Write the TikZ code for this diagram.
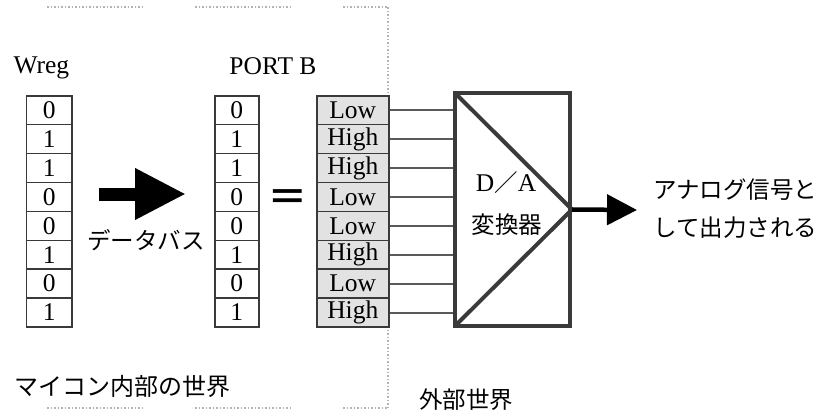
\documentclass[tikz,border=0pt]{standalone}
\usepackage{fontspec}
\setmainfont{Liberation Serif}
\newfontfamily\jp{Noto Sans CJK JP}
\newfontfamily\symfont{DejaVu Sans}
\usetikzlibrary{matrix,arrows.meta,positioning,calc}
\definecolor{edgegray}{HTML}{3A3A3A}
\definecolor{cellgray}{HTML}{E2E2E2}
\definecolor{wiregray}{HTML}{5A5A5A}
\definecolor{dotgray}{HTML}{B4B4B4}

\begin{document}
\begin{tikzpicture}[x=1pt,y=-1pt,
  font=\fontsize{25.5}{28}\selectfont,
  cell/.style={draw=edgegray,line width=1.5pt,minimum height=28.9pt,inner sep=0pt,outer sep=0.75pt},
  col/.style={matrix of nodes,anchor=north west,row sep=-1.5pt,inner sep=0pt,outer sep=0pt},
  wire/.style={draw=wiregray,line width=2pt},
  border/.style={draw=dotgray,line width=1.5pt,dotted},
  jplabel/.style={font=\jp\fontsize{23.5}{38}\selectfont,inner sep=0pt}]
\useasboundingbox (0,0) rectangle (837,412);
% dotted frame of the inner world
\draw[border] (47,7) -- (143,7) (195,7) -- (292,7) (343,7) -- (388,7) -- (388,408);
\draw[border] (47,408) -- (143,408) (195,408) -- (292,408) (343,408) -- (388,408);
% registers
\node[anchor=west] (wlbl) at (10,68) {Wreg};
\matrix (w) [col,nodes={cell,minimum width=45pt}] at (26,95)
{ 0\\ 1\\ 1\\ 0\\ 0\\ 1\\ 0\\ 1\\ };
\node (plbl) at (273,66) {PORT B};
\matrix (p) [col,nodes={cell,minimum width=44pt}] at (214,95)
{ 0\\ 1\\ 1\\ 0\\ 0\\ 1\\ 0\\ 1\\ };
\node[font=\symfont\fontsize{46}{46}\selectfont,inner sep=0pt] (eq) at (288,200) {=};
\matrix (l) [col,nodes={cell,fill=cellgray,minimum width=72pt}] at (316,95)
{ Low\\ High\\ High\\ Low\\ Low\\ High\\ Low\\ High\\ };
% data bus arrow
\coordinate (bs) at (99,194);
\coordinate (be) at (186,194);
\draw[line width=13pt,-{Triangle[length=51pt,width=48pt]}] (bs) -- (be);
\node[jplabel] (bus) at (146,240) {データバス};
% D/A converter
\node[draw=edgegray,line width=4pt,minimum width=115pt,minimum height=233pt,inner sep=0pt] (da) at (512.5,209.5) {};
\draw[edgegray,line width=4pt,line join=miter] ($(da.north west)+(2,2)$) -- (da.east) -- ($(da.south west)+(2,-2)$);
\node (dalbl) at (506,183) {D{\jp\fontsize{23.5}{24}\selectfont ／}A};
\node[jplabel] (conv) at (507,225) {変換器};
\foreach \i in {1,...,8}
  \draw[wire] (l-\i-1.east) -- (l-\i-1.east -| da.west);
% analog output
\coordinate (out) at (637,210);
\draw[line width=4.5pt,-{Triangle[length=30pt,width=30pt]}] (da.east) -- (out);
\node[jplabel,anchor=west,align=left] (outlbl) at (653,209) {アナログ信号と\\して出力される};
% worlds
\node[jplabel,anchor=west,font=\jp\fontsize{24}{26}\selectfont] (inner) at (14,386) {マイコン内部の世界};
\node[jplabel] (outer) at (466,400) {外部世界};
\end{tikzpicture}
\end{document}
